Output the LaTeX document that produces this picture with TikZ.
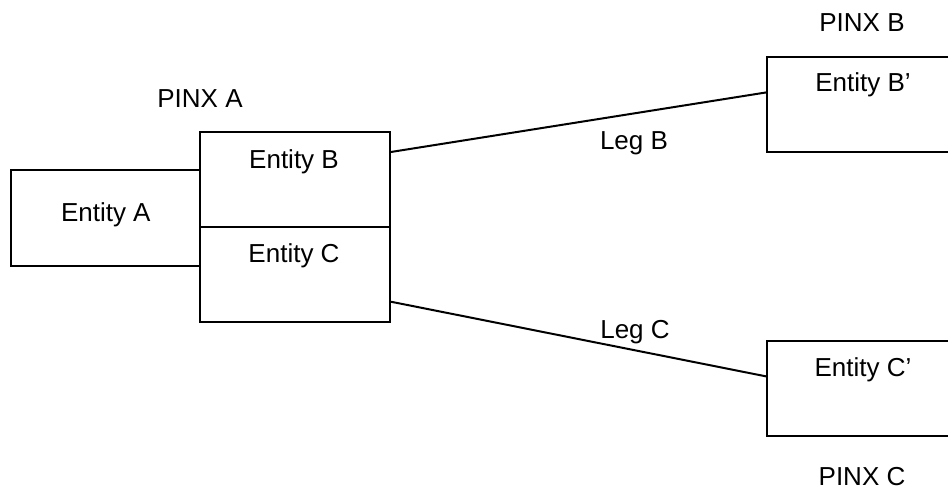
\documentclass[tikz,border=0pt]{standalone}
\usepackage{fontspec}
\setmainfont{Liberation Sans}
\begin{document}
\begin{tikzpicture}[x=1pt,y=-1pt,
  box/.style={draw=black,line width=2pt,rectangle,inner sep=0pt,minimum width=190pt,minimum height=95pt},
  lbl/.style={inner sep=0pt,anchor=base,font=\fontsize{26}{30}\selectfont},
  leg/.style={draw=black,line width=2pt}]
\clip (0,0) rectangle (948,491);
\fill[white] (0,0) rectangle (948,491);
% boxes
\node[box,minimum width=189.5pt,minimum height=95.5pt] (boxA) at (105.5,218) {};
\node[box,minimum height=94.4pt] (boxB) at (295,179.5) {};
\node[box] (boxC) at (295,274.2) {};
\node[box] (boxBp) at (862.3,104.2) {};
\node[box] (boxCp) at (862.3,388.2) {};
% texts
\node[lbl] (tA) at (105.8,221.7) {Entity A};
\node[lbl] (tB) at (294,168.3) {Entity B};
\node[lbl] (tC) at (294,262.7) {Entity C};
\node[lbl] (pA) at (200,107.5) {PINX A};
\node[lbl] (pB) at (862,31.7) {PINX B};
\node[lbl] (tBp) at (863,91.7) {Entity B’};
\node[lbl] (tCp) at (863,376.7) {Entity C’};
\node[lbl] (pC) at (862,485.7) {PINX C};
% legs
\draw[leg] (boxB.16.9) -- (boxBp.173.9);
\draw[leg] (boxC.-16.7) -- (boxCp.173.7);
\node[lbl] (lB) at (634,149) {Leg B};
\node[lbl] (lC) at (635,338.3) {Leg C};
\end{tikzpicture}
\end{document}
